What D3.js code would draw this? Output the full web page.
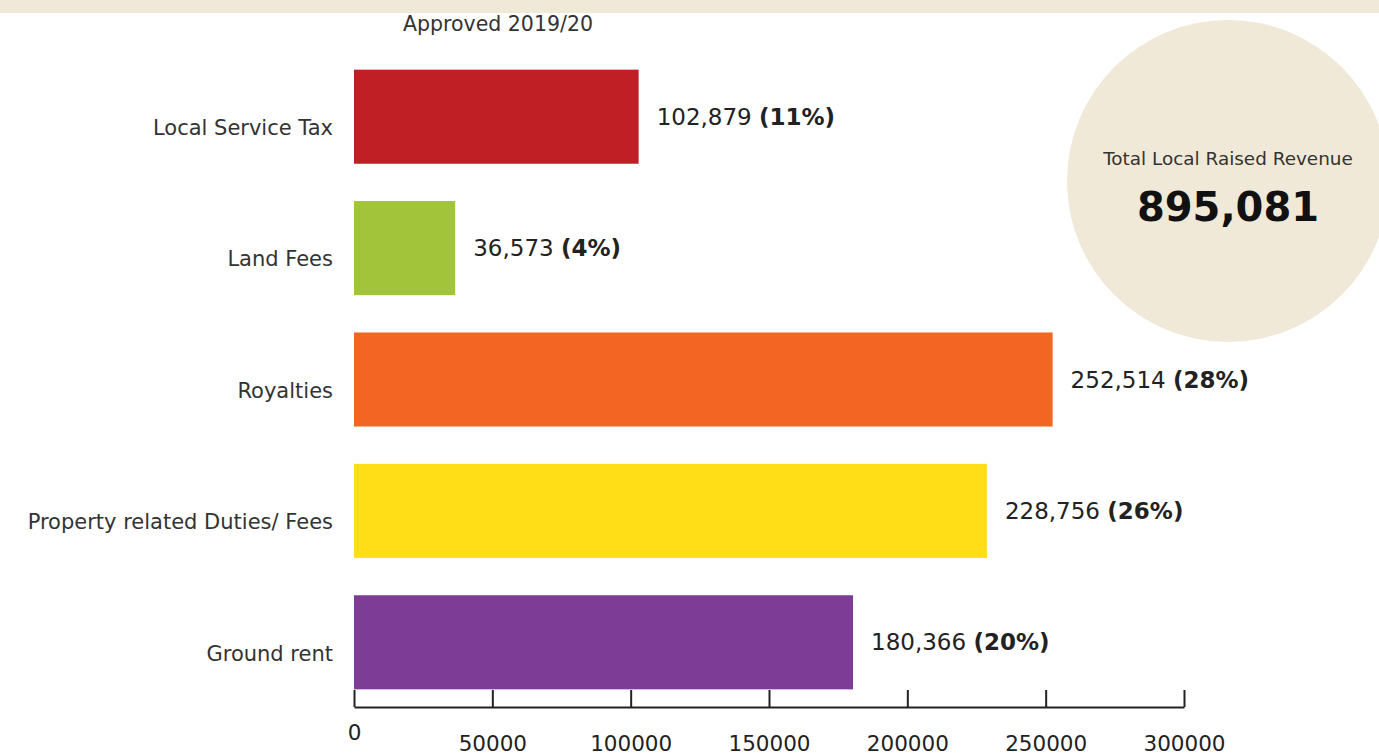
<!DOCTYPE html>
<html>
<head>
<meta charset="utf-8">
<script src="https://cdn.jsdelivr.net/npm/d3@7"></script>
<style>
  body { margin: 0; background: #fff; }
  svg { display: block; font-family: "DejaVu Sans", sans-serif; }
</style>
</head>
<body>
<div id="chart"></div>
<script>
// values (approved 2019/20)
var categories = ["Local Service Tax", "Land Fees", "Royalties", "Property related Duties/ Fees", "Ground rent"];
var values = [102879, 36573, 252514, 228756, 180366];
var shares = [11, 4, 28, 26, 20];
var colors = ["#c01f26", "#a2c43a", "#f26522", "#ffde17", "#7d3c96"];
var tickValues = [0, 50000, 100000, 150000, 200000, 250000, 300000];
var totalLabel = "Total Local Raised Revenue";
var totalValue = 895081;

var width = 1379, height = 755;

var svg = d3.select("#chart").append("svg")
    .attr("width", width)
    .attr("height", height);

// beige strip at the top
svg.append("rect")
  .attr("x", 0).attr("y", 0)
  .attr("width", width).attr("height", 13)
  .attr("fill", "#f0e9d8");

var x = d3.scaleLinear()
  .domain([0, 300000])
  .range([354, 1184]);

var y = d3.scaleBand()
  .domain(categories)
  .range([51, 708])
  .paddingInner(0.284)
  .paddingOuter(0.142);

svg.append("text")
  .attr("x", 498).attr("y", 31)
  .attr("text-anchor", "middle")
  .attr("fill", "#333")
  .style("font-size", "20.5px")
  .text("Approved 2019/20");

// bars
svg.selectAll("rect.bar")
  .data(categories)
  .enter()
  .append("rect")
    .attr("class", "bar")
    .attr("x", x(0))
    .attr("y", function(d) { return y(d); })
    .attr("width", function(d, i) { return x(values[i]) - x(0); })
    .attr("height", y.bandwidth())
    .attr("fill", function(d, i) { return colors[i]; });

// category labels (sit a little below bar centre, as in the original)
svg.selectAll("text.cat")
  .data(categories)
  .enter()
  .append("text")
    .attr("class", "cat")
    .attr("x", 333)
    .attr("y", function(d) { return y(d) + y.bandwidth() / 2 + 11; })
    .attr("dy", "0.35em")
    .attr("text-anchor", "end")
    .attr("fill", "#333")
    .style("font-size", "21px")
    .text(function(d) { return d; });

// value labels
var fmt = d3.format(",");
var vl = svg.selectAll("text.val")
  .data(categories)
  .enter()
  .append("text")
    .attr("class", "val")
    .attr("x", function(d, i) { return x(values[i]) + 18; })
    .attr("y", function(d) { return y(d) + y.bandwidth() / 2; })
    .attr("dy", "0.35em")
    .attr("fill", "#222")
    .style("font-size", "23px");
vl.append("tspan").text(function(d, i) { return fmt(values[i]) + " "; });
vl.append("tspan")
  .style("font-weight", "bold")
  .text(function(d, i) { return "(" + shares[i] + "%)"; });

// x axis, ticks pointing up
var axis = svg.append("g")
  .attr("transform", "translate(0,707)")
  .call(d3.axisBottom(x)
    .tickValues(tickValues)
    .tickFormat(d3.format("d"))
    .tickSizeInner(-17)
    .tickSizeOuter(0));
axis.select(".domain").attr("stroke", "#222").attr("stroke-width", 2);
axis.selectAll(".tick line").attr("stroke", "#222").attr("stroke-width", 2);
axis.selectAll(".tick text")
  .attr("fill", "#222")
  .style("font-size", "21.5px")
  .style("font-family", "\"DejaVu Sans\", sans-serif")
  .attr("y", function(d) { return d === 0 ? 18 : 29; });

// total circle
svg.append("circle")
  .attr("cx", 1228).attr("cy", 181).attr("r", 161)
  .attr("fill", "#f0e9d8");
svg.append("text")
  .attr("x", 1228).attr("y", 165)
  .attr("text-anchor", "middle")
  .attr("fill", "#333")
  .style("font-size", "18.4px")
  .text(totalLabel);
svg.append("text")
  .attr("x", 1228).attr("y", 221)
  .attr("text-anchor", "middle")
  .attr("fill", "#111")
  .style("font-size", "40px")
  .style("font-weight", "bold")
  .text(fmt(totalValue));
</script>
</body>
</html>
